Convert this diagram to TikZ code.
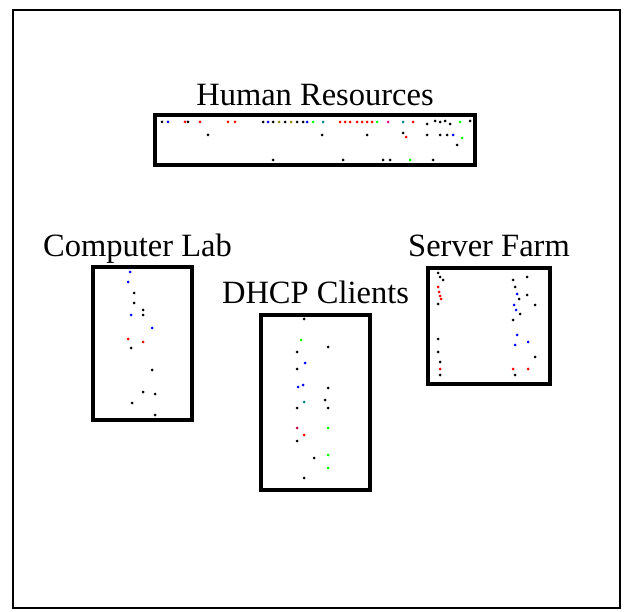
\documentclass[tikz,border=0pt]{standalone}
\usepackage{fontspec}
\setmainfont{Liberation Serif}
\usetikzlibrary{positioning}
\tikzset{
  zone/.style = {draw, line width = 3.3pt, inner sep = 0pt},
  zonename/.style = {font = \fontsize{32.5}{32.5}\selectfont, inner sep = 0pt, anchor = base},
  dot/.style = {radius = 1.5}
}
\begin{document}
\begin{tikzpicture}[x = 1pt, y = -1pt]
      \useasboundingbox (0,0) rectangle (624,612);
      \draw [line width = 2.6pt] (13,10) rectangle (620,608);
      \node [zone, minimum width = 320pt, minimum height = 50pt] (hr) at (315,140) {};
      \node [zone, minimum width = 99pt, minimum height = 153pt] (lab) at (142.5,343.5) {};
      \node [zone, minimum width = 109pt, minimum height = 175pt] (dhcp) at (315.5,402.5) {};
      \node [zone, minimum width = 122pt, minimum height = 116pt] (farm) at (489,326) {};
      \node [zonename, above = 8pt of hr.north, anchor = base] (hrname) {Human Resources};
      \node [zonename, above = 9pt of lab.north, anchor = base, xshift = -5pt] (labname) {Computer Lab};
      \node [zonename, above = 10pt of dhcp.north, anchor = base] (dhcpname) {DHCP Clients};
      \node [zonename, above = 10pt of farm.north, anchor = base] (farmname) {Server Farm};
      \foreach \x/\y/\c in {162/122/black, 168/122/blue, 185/122/red, 188/122/black, 200/122/red,
          228/122/red, 235/122/red, 263/122/black, 268/122/blue, 273/122/black, 279/122/olive,
          285/122/black, 291/122/olive, 297/122/black, 303/122/black, 307/122/blue,
          313/122/green, 323/122/teal, 340/122/red, 345/122/red, 350/122/red, 357/122/red,
          362/122/red, 367/122/red, 372/122/red, 377/122/green, 388/122/magenta, 403/122/teal,
          413/122/red, 427/124/black, 435/121/black, 440/122/black, 445/121/black, 450/124/black,
          460/122/green, 470/121/black, 208/135/black, 322/135/black, 367/135/black,
          403/133/black, 406/137/red, 427/135/black, 440/135/black, 447/135/black,
          453/135/blue, 457/145/black, 462/138/green, 273/160/black, 343/160/black,
          383/160/black, 390/160/black, 410/160/green, 433/160/black}
        \fill [\c] (\x,\y) circle [dot];
      \foreach \x/\y/\c in {130/272/blue, 128/282/blue, 134/293/black, 134/303/black,
          143/310/black, 143/315/black, 131/315/blue, 152/328/blue, 128/339/red,
          143/342/red, 131/348/black, 152/370/black, 143/392/black, 155/394/black,
          132/403/black, 155/415/black}
        \fill [\c] (\x,\y) circle [dot];
      \foreach \x/\y/\c in {304/319/black, 301/340/green, 328/347/black, 297/352/black,
          305/363/blue, 297/369/black, 298/387/blue, 303/385/blue, 328/388/black,
          304/402/teal, 325/400/black, 297/408/black, 328/408/black, 297/428/purple,
          304/435/red, 297/441/black, 328/428/green, 314/458/black, 328/455/green,
          328/468/green, 304/478/black}
        \fill [\c] (\x,\y) circle [dot];
      \foreach \x/\y/\c in {438/273/black, 440/277/black, 443/280/black, 438/287/red,
          439/292/red, 440/296/red, 441/299/red, 438/304/black, 438/339/black,
          438/352/black, 440/362/black, 440/369/red, 440/375/black, 513/280/black,
          515/287/black, 517/294/blue, 519/299/black, 514/305/blue, 516/310/blue,
          520/314/black, 513/320/black, 517/335/blue, 515/345/blue, 513/369/red,
          515/375/black, 527/277/black, 527/295/black, 535/305/black, 528/342/blue,
          535/357/black, 528/369/red}
        \fill [\c] (\x,\y) circle [dot];
    \end{tikzpicture}
\end{document}
